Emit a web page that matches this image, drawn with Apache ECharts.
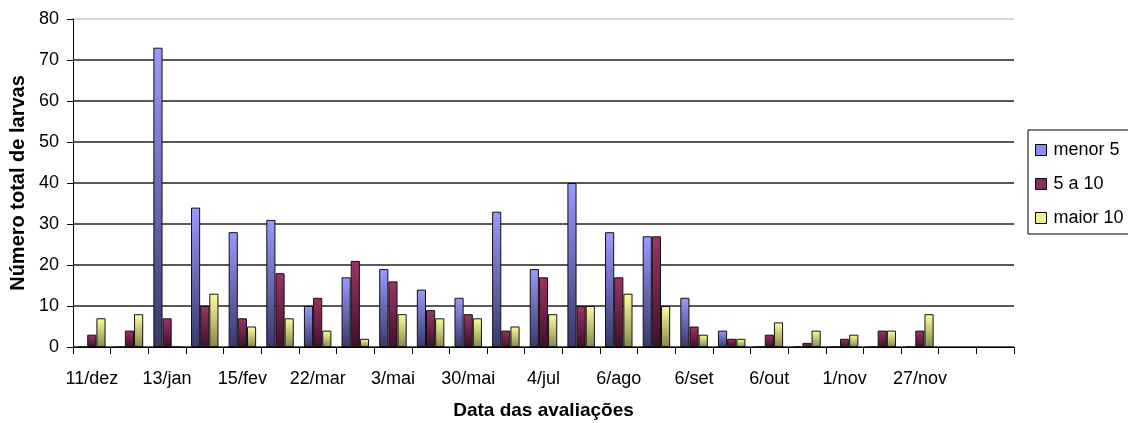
<!DOCTYPE html>
<html>
<head>
<meta charset="utf-8">
<script src="https://cdn.jsdelivr.net/npm/echarts@6/dist/echarts.min.js"></script>
<style>
  html, body { margin: 0; padding: 0; background: #fff; }
  #chart { width: 1128px; height: 423px; }
</style>
</head>
<body>
<div id="chart"></div>
<script>
// Evaluation dates (only every other date is printed on the axis)
const dateLabels = [
  '11/dez', '', '13/jan', '', '15/fev', '', '22/mar', '', '3/mai', '',
  '30/mai', '', '4/jul', '', '6/ago', '', '6/set', '', '6/out', '',
  '1/nov', '', '27/nov', '', ''
];
const seriesNames = ['menor 5', '5 a 10', 'maior 10'];
// Larvae counts per size class
const menor5  = [0, 0, 73, 34, 28, 31, 10, 17, 19, 14, 12, 33, 19, 40, 28, 27, 12, 4, 0, 0, 0, 0, 0, null, null];
const de5a10  = [3, 4, 7, 10, 7, 18, 12, 21, 16, 9, 8, 4, 17, 10, 17, 27, 5, 2, 3, 1, 2, 4, 4, null, null];
const maior10 = [7, 8, 0, 13, 5, 7, 4, 2, 8, 7, 7, 5, 8, 10, 13, 10, 3, 2, 6, 4, 3, 4, 8, null, null];
const yTicks = { min: 0, max: 80, step: 10 };

const FONT = '"Liberation Sans", Arial, sans-serif';

function grad(top, bottom) {
  return new echarts.graphic.LinearGradient(0, 0, 0, 1, [
    { offset: 0, color: top },
    { offset: 1, color: bottom }
  ]);
}

const palette = [
  { top: '#9a9aff', bottom: '#38386a', legend: '#8c8cf0' },
  { top: '#9c3468', bottom: '#401028', legend: '#8a2c5c' },
  { top: '#ffff9c', bottom: '#88884e', legend: '#f0f090' }
];

const values = [menor5, de5a10, maior10];

const splitColors = [];
for (let v = yTicks.min; v <= yTicks.max; v += yTicks.step) {
  splitColors.push(v === yTicks.max ? '#c8c8c8' : '#222');
}

const chart = echarts.init(document.getElementById('chart'), null, { renderer: 'canvas' });

chart.setOption({
  animation: false,
  backgroundColor: '#fff',
  textStyle: { fontFamily: FONT, color: '#000' },
  grid: { left: 73, right: 114, top: 19, bottom: 76, containLabel: false, outerBoundsMode: 'none' },
  legend: {
    orient: 'vertical',
    left: 1028,
    top: 130,
    padding: [11, 10, 7, 7],
    itemGap: 16,
    itemWidth: 11,
    itemHeight: 11,
    borderColor: '#000',
    borderWidth: 1,
    textStyle: { fontFamily: FONT, fontSize: 18, color: '#000', padding: [0, 0, 0, 2] },
    data: seriesNames.map((n, i) => ({
      name: n,
      icon: 'rect',
      itemStyle: { color: palette[i].legend, borderColor: '#000', borderWidth: 1 }
    }))
  },
  xAxis: {
    type: 'category',
    data: dateLabels,
    boundaryGap: true,
    name: 'Data das avaliações',
    nameLocation: 'middle',
    nameGap: 54,
    nameTextStyle: { fontFamily: FONT, fontSize: 19, fontWeight: 'bold', color: '#000' },
    axisLine: { lineStyle: { color: '#000', width: 1 } },
    axisTick: { show: true, length: 7, interval: 0, lineStyle: { color: '#000' } },
    axisLabel: { interval: 0, margin: 23, fontFamily: FONT, fontSize: 18, color: '#000' },
    splitLine: { show: false }
  },
  yAxis: {
    type: 'value',
    min: yTicks.min,
    max: yTicks.max,
    interval: yTicks.step,
    name: 'Número total de larvas',
    nameLocation: 'middle',
    nameGap: 44,
    nameTextStyle: { fontFamily: FONT, fontSize: 20, fontWeight: 'bold', color: '#000' },
    axisLine: { show: true, lineStyle: { color: '#000', width: 1 } },
    axisTick: { show: true, length: 6, lineStyle: { color: '#000' } },
    axisLabel: { margin: 14, fontFamily: FONT, fontSize: 18, color: '#000' },
    splitLine: { show: true, lineStyle: { color: splitColors, width: 1.5 } }
  },
  series: seriesNames.map((n, i) => ({
    name: n,
    type: 'bar',
    data: values[i],
    barGap: '0%',
    barCategoryGap: '27%',
    itemStyle: {
      color: grad(palette[i].top, palette[i].bottom),
      borderColor: '#111',
      borderWidth: 1
    }
  }))
});
</script>
</body>
</html>
